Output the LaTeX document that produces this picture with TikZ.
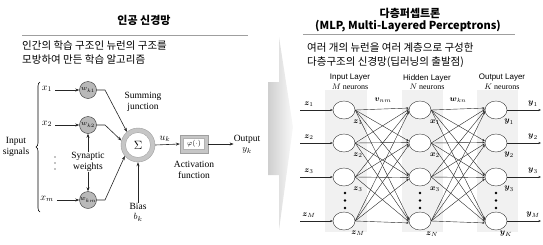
\documentclass[tikz,border=0pt]{standalone}
\usepackage{amsmath}
\usepackage{fontspec}
\setmainfont{Liberation Serif}
\newfontfamily\kr{Noto Sans CJK KR}
\newfontfamily\sansf{Liberation Sans}
\usetikzlibrary{arrows.meta,shapes.geometric,decorations.pathreplacing}
\begin{document}
\begin{tikzpicture}[x=1pt,y=-1pt,
  wt/.style={circle, draw=black!80, fill=gray!55, minimum size=17pt, inner sep=0pt, font=\fontsize{7.5}{8}\selectfont},
  lbl/.style={font=\fontsize{9.5}{10.5}\selectfont, align=center, inner sep=0pt},
  mlbl/.style={font=\fontsize{10}{11}\selectfont, inner sep=0pt},
  neu/.style={ellipse, draw=black!80, fill=white, minimum width=22pt, minimum height=18pt, inner sep=0pt},
  layer/.style={fill=gray!11},
  arr/.style={-{Stealth[length=4pt,width=3pt]}, black!85, line width=0.6pt},
  conn/.style={-{Stealth[length=2.5pt,width=2pt]}, black!85, line width=0.4pt},
  krtext/.style={font=\kr\fontsize{10.5}{12}\selectfont, anchor=west, inner sep=0pt},
  krtitle/.style={font=\kr\bfseries\fontsize{11}{13}\selectfont, inner sep=0pt},
  hdr/.style={font=\sansf\fontsize{8}{9}\selectfont, inner sep=0pt},
  sub/.style={font=\fontsize{8}{9}\selectfont, inner sep=0pt},
  blab/.style={font=\fontsize{8.5}{9}\selectfont, inner sep=0pt},
  rule/.style={gray!75, line width=0.8pt}]
\useasboundingbox (0,0) rectangle (543,244);

% central chevron
\shade[left color=gray!38, right color=gray!5]
  (268,82) -- (279,82) -- (279,37) -- (293,127) -- (279,230) -- (279,175) -- (268,175) -- cycle;

% ---------- left panel ----------
\node[krtitle] (t1) at (144,20) {인공 신경망};
\coordinate (r1a) at (22,35); \coordinate (r1b) at (248,35);
\draw[rule] (r1a) -- (r1b);
\node[krtext] (d1) at (22,46) {인간의 학습 구조인 뉴런의 구조를};
\node[krtext] (d2) at (22,60) {모방하여 만든 학습 알고리즘};

\node[wt] (w1) at (88,90) {$w_{k1}$};
\node[wt] (w2) at (88,125) {$w_{k2}$};
\node[wt] (wm) at (88,200) {$w_{km}$};
\node[mlbl] (x1) at (47,89) {$x_1$};
\node[mlbl] (x2) at (47,124) {$x_2$};
\node[mlbl] (xm) at (47,199) {$x_m$};
\foreach \yy in {157,163,169}{ \fill (55,\yy) circle (0.7pt); }
\draw[arr] (x1.east) ++(3,1) -- (w1.west);
\draw[arr] (x2.east) ++(3,1) -- (w2.west);
\draw[arr] (xm.east) ++(3,1) -- (wm.west);

\draw[decorate, decoration={brace, amplitude=4pt}, line width=0.6pt] (40,212) -- (40,82);
\node[lbl] (ins) at (16,147) {Input\\signals};

\node[lbl] (syn) at (88,162) {Synaptic\\weights};
\draw[arr] (syn.north) -- (w2.south);
\draw[arr] (syn.south) -- (wm.north);

\node[circle, fill=gray!45, draw=gray!75, minimum size=34pt, inner sep=0pt] (sig) at (138,145) {};
\node[circle, fill=white, draw=gray!75, minimum size=25pt, inner sep=0pt, font=\fontsize{13}{13}\selectfont] (sigin) at (138,145) {$\Sigma$};
\node[lbl] (sj) at (143,102) {Summing\\junction};

\coordinate (b1) at (105,90);
\coordinate (b2) at (105,125);
\coordinate (bm) at (105,200);
\draw[arr] (w1.east) -- (b1) -- (sig.130);
\draw[arr] (w2.east) -- (b2) -- (sig.165);
\draw[arr] (wm.east) -- (bm) -- (sig.220);

\node[lbl] (bias) at (138,212) {Bias\\$b_k$};
\draw[arr] (bias.north) -- (sig.south);

\node[rectangle, fill=gray!45, draw=gray!75, minimum width=28pt, minimum height=18pt, inner sep=0pt] (phi) at (194,144) {};
\node[rectangle, fill=white, draw=gray!60, minimum width=21pt, minimum height=11pt, inner sep=0pt, font=\fontsize{7}{7}\selectfont] (phin) at (194,144) {$\varphi(\cdot)$};
\draw[arr] (sig.east) -- (phi.west);
\node[mlbl] (uk) at (165,139) {$u_k$};
\node[lbl] (act) at (194,170) {Activation\\function};
\node[lbl] (out) at (247,144) {Output\\$y_k$};
\draw[arr] (phi.east) -- (out.west);

% ---------- right panel ----------
\node[krtitle] (t2) at (410,13) {다층퍼셉트론};
\node[krtitle] (t3) at (408,26) {(MLP, Multi-Layered Perceptrons)};
\coordinate (r2a) at (303,34); \coordinate (r2b) at (515,34);
\draw[rule] (r2a) -- (r2b);
\node[krtext] (d3) at (307,48) {여러 개의 뉴런을 여러 계층으로 구성한};
\node[krtext] (d4) at (307,62) {다층구조의 신경망(딥러닝의 출발점)};

\fill[layer] (325,90) rectangle (367,232);
\fill[layer] (402,90) rectangle (443,232);
\fill[layer] (477,90) rectangle (518,232);

\node[hdr] (h1) at (350,78) {Input Layer};
\node[hdr] (h2) at (427,78) {Hidden Layer};
\node[hdr] (h3) at (502,78) {Output Layer};
\node[sub] (s1) at (350,87) {$M$ neurons};
\node[sub] (s2) at (427,87) {$N$ neurons};
\node[sub] (s3) at (502,87) {$K$ neurons};

\foreach \i/\y in {1/110,2/143,3/177,4/221}{
  \node[neu] (I\i) at (344,\y) {};
  \node[neu] (H\i) at (420,\y) {};
  \node[neu] (O\i) at (496,\y) {};
  \coordinate (ia\i) at (300,\y);
  \coordinate (oa\i) at (541,\y);
  \draw[conn] (ia\i) -- (I\i.west);
  \draw[conn] (O\i.east) -- (oa\i);
}
\foreach \i in {1,...,4}{
  \foreach \j in {1,...,4}{
    \draw[conn] (I\i.east) -- ([yshift={(2.5-\i)*1.3pt}]H\j.west);
    \draw[conn] (H\i.east) -- ([yshift={(2.5-\i)*1.3pt}]O\j.west);
  }
}
\foreach \i/\y/\a/\e in {1/110/1/1,2/143/2/2,3/177/3/3,4/221/M/M}{
  \node[blab] (zl\i) at (309,\y-6) {$\boldsymbol{z}_{\a}$};
  \node[blab] (zb\i) at (358,\y+12) {$\boldsymbol{z}_{\a}$};
  \node[blab] (yr\i) at (533,\y-6) {$\boldsymbol{y}_{\e}$};
}
\node[blab] (xb1) at (435,122) {$\boldsymbol{x}_{1}$};
\node[blab] (xb2) at (435,155) {$\boldsymbol{x}_{2}$};
\node[blab] (xb3) at (435,189) {$\boldsymbol{x}_{3}$};
\node[blab] (xb4) at (432,234) {$\boldsymbol{z}_{N}$};
\node[blab] (yb1) at (509,122) {$\boldsymbol{y}_{1}$};
\node[blab] (yb2) at (509,155) {$\boldsymbol{y}_{2}$};
\node[blab] (yb3) at (509,189) {$\boldsymbol{y}_{3}$};
\node[blab] (yb4) at (506,234) {$\boldsymbol{y}_{K}$};
\node[blab] (vnm) at (383,100) {$\boldsymbol{v}_{nm}$};
\node[blab] (wkn) at (458,100) {$\boldsymbol{w}_{kn}$};

\foreach \x in {345,420,496}{
  \foreach \yy in {193,200.5,208}{
    \fill (\x,\yy) circle (1.4pt);
  }
}
\end{tikzpicture}
\end{document}
